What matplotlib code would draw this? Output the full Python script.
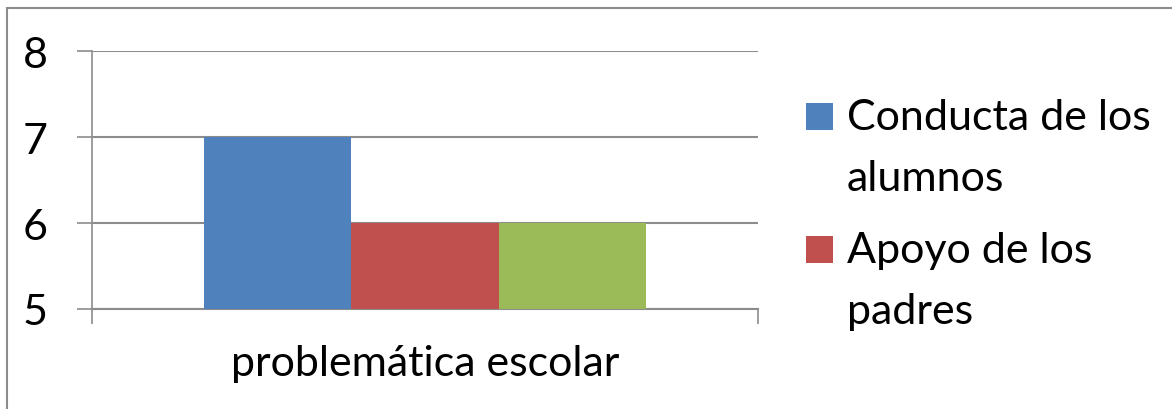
import matplotlib.pyplot as plt
import matplotlib.patches as patches

# data
category = "problemática escolar"
series_names = ["Conducta de los\nalumnos", "Apoyo de los\npadres", "Otros"]
values = [7, 6, 6]
colors = ["#4f81bd", "#c0504d", "#9bbb59"]
shown_in_legend = 2  # third legend entry is cut off in the original
y_ticks = [5, 6, 7, 8]

W, H = 1172, 410
plt.rcParams['font.family'] = ['Lato', 'DejaVu Sans']
FS = 31

fig = plt.figure(figsize=(W / 100, H / 100), dpi=100)
ax = fig.add_axes([92 / W, 1 - 310 / H, (758 - 92) / W, (310 - 52) / H])

grid_c = "#8c8c8c"
group = 0.665
bw = group / len(values)
for i, (v, c) in enumerate(zip(values, colors)):
    x = -group / 2 + bw * (i + 0.5)
    ax.bar(x, v - y_ticks[0], bottom=y_ticks[0], width=bw, color=c, zorder=3)

ax.set_xlim(-0.5, 0.5)
ax.set_ylim(y_ticks[0], y_ticks[-1])
ax.set_yticks(y_ticks)
ax.yaxis.grid(True, color=grid_c, linewidth=1.5, zorder=0)
ax.set_axisbelow(True)
ax.tick_params(axis='y', length=11, width=1.2, color=grid_c, pad=21, labelsize=FS)

ax.set_xticks([0])
ax.set_xticklabels([category])
ax.set_xticks([-0.5, 0.5], minor=True)
ax.tick_params(axis='x', which='major', length=0, pad=25, labelsize=FS)
ax.tick_params(axis='x', which='minor', length=11, width=1.2, color=grid_c)

for s in ['top', 'right']:
    ax.spines[s].set_visible(False)
ax.spines['left'].set_color(grid_c)
ax.spines['left'].set_linewidth(1.2)
ax.spines['bottom'].set_color(grid_c)
ax.spines['bottom'].set_linewidth(1.5)

# legend drawn by hand so each square sits on the first text line
for i in range(shown_in_legend):
    top = 104 + i * 133
    fig.patches.append(patches.Rectangle((806 / W, 1 - (top + 27) / H), 27 / W, 27 / H,
                                         transform=fig.transFigure, facecolor=colors[i],
                                         edgecolor='none'))
    for j, line in enumerate(series_names[i].split("\n")):
        fig.text(847 / W, 1 - (top + 26 + j * 61) / H, line, fontsize=FS,
                 va='baseline', ha='left')

# chart area border (right and bottom edges fall outside the crop)
fig.patches.append(patches.Rectangle((7 / W, -0.2), 2, 1.2 - 9 / H,
                                     transform=fig.transFigure, fill=False,
                                     edgecolor=grid_c, linewidth=1.5))

fig.savefig("out.png", dpi=100)
